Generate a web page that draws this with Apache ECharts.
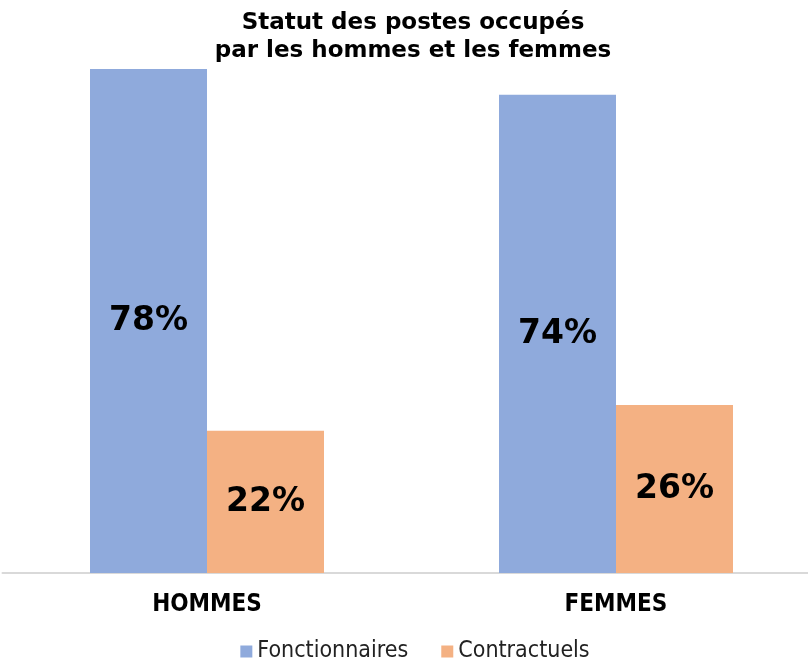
<!DOCTYPE html>
<html>
<head>
<meta charset="utf-8">
<script src="https://cdn.jsdelivr.net/npm/echarts@6/dist/echarts.min.js"></script>
<style>
  html, body { margin: 0; padding: 0; background: #fff; overflow: hidden; }
  #chart { width: 830px; height: 659px; }
</style>
</head>
<body>
<div id="chart"></div>
<script>
const categories = ['HOMMES', 'FEMMES'];
const fonctionnaires = [78, 74];
const contractuels = [22, 26];

const narrow = '"DejaVu Sans Condensed", "Liberation Sans Narrow", "DejaVu Sans", sans-serif';

// wider than the window so the right part of the axis runs off the edge
const chart = echarts.init(document.getElementById('chart'));

const labelStyle = {
  show: true,
  position: 'inside',
  formatter: '{c}%',
  color: '#000',
  fontFamily: 'DejaVu Sans',
  fontWeight: 'bold',
  fontSize: 33
};

chart.setOption({
  animation: false,
  title: {
    text: 'Statut des postes occupés\npar les hommes et les femmes',
    left: 408,
    textAlign: 'center',
    top: 4,
    textStyle: {
      fontFamily: 'DejaVu Sans',
      fontWeight: 'bold',
      fontSize: 23,
      lineHeight: 28,
      color: '#000'
    }
  },
  legend: {
    top: 635,
    left: 'center',
    itemWidth: 12,
    itemHeight: 12,
    itemGap: 33,
    icon: 'rect',
    textStyle: {
      fontFamily: narrow,
      fontSize: 23,
      color: '#222'
    },
    data: ['Fonctionnaires', 'Contractuels']
  },
  grid: {
    left: 2.5,
    right: 9.5,
    top: 69,
    bottom: 86,
    containLabel: false
  },
  xAxis: {
    type: 'category',
    data: categories,
    axisLine: { lineStyle: { color: '#d9d9d9', width: 2 } },
    axisTick: { show: false },
    axisLabel: {
      margin: 20,
      fontFamily: narrow,
      fontWeight: 'bold',
      fontSize: 24,
      color: '#000'
    }
  },
  yAxis: {
    type: 'value',
    min: 0,
    max: 78,
    show: false,
    splitLine: { show: false }
  },
  series: [
    {
      name: 'Fonctionnaires',
      type: 'bar',
      data: fonctionnaires,
      barWidth: 117,
      barGap: '0%',
      itemStyle: { color: '#8FAADC' },
      label: labelStyle
    },
    {
      name: 'Contractuels',
      type: 'bar',
      data: contractuels,
      barWidth: 117,
      barGap: '0%',
      itemStyle: { color: '#F4B183' },
      label: labelStyle
    }
  ]
});
</script>
</body>
</html>
